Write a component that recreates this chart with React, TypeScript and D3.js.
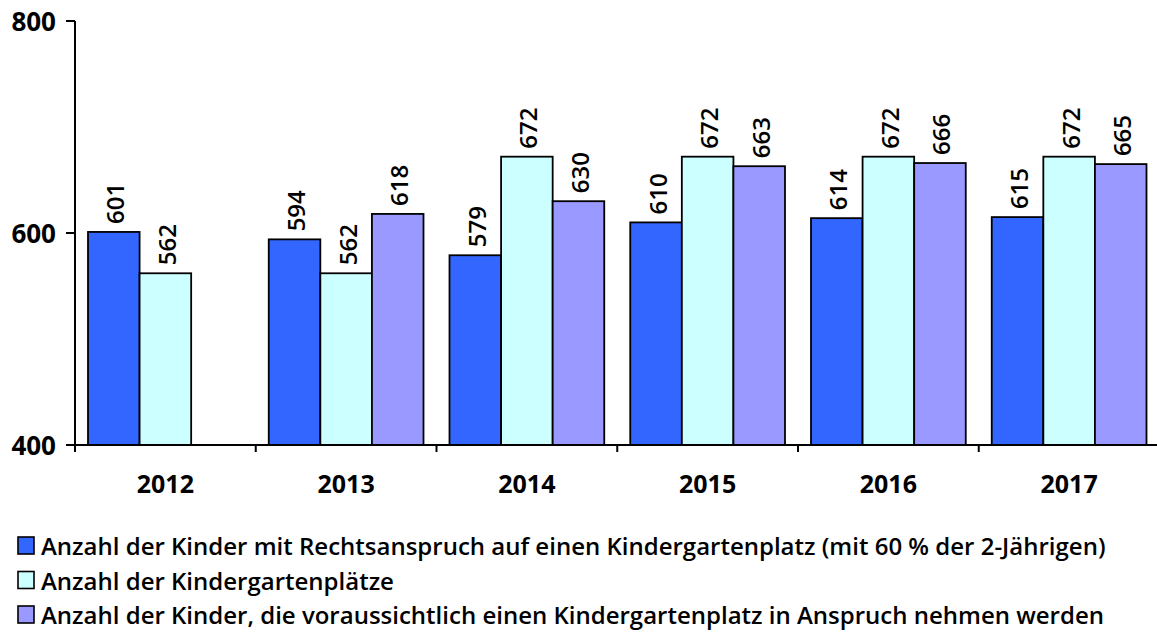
import React from "react";
import * as d3 from "d3";

const years = ["2012", "2013", "2014", "2015", "2016", "2017"];
const rechtsanspruch = [601, 594, 579, 610, 614, 615];
const plaetze = [562, 562, 672, 672, 672, 672];
const inanspruch: (number | null)[] = [null, 618, 630, 663, 666, 665];
const yTicks = [400, 600, 800];
const seriesNames = [
  "Anzahl der Kinder mit Rechtsanspruch auf einen Kindergartenplatz (mit 60 % der 2-Jährigen)",
  "Anzahl der Kindergartenplätze",
  "Anzahl der Kinder, die voraussichtlich einen Kindergartenplatz in Anspruch nehmen werden",
];
const colors = ["#3366FF", "#CCFFFF", "#9999FF"];

const W = 1157;
const H = 639;
const FONT = "'Open Sans', sans-serif";

export default function App() {
  const x0 = 75;
  const step = 180.75;
  const x = d3.scaleBand<string>().domain(years).range([x0, x0 + step * years.length]).paddingInner(0).paddingOuter(0);
  const inner = d3.scaleBand<number>().domain([0, 1, 2]).range([13, step - 13]).padding(0);
  const y = d3.scaleLinear().domain([400, 800]).range([445, 21]);
  const series = [rechtsanspruch, plaetze, inanspruch];

  return (
    <svg width={W} height={H} style={{ position: "absolute", left: 0, top: 0, background: "#fff" }} fontFamily={FONT}>
      {series.map((vals, si) =>
        vals.map((v, i) => {
          if (v == null) return null;
          const bx = (x(years[i]) as number) + (inner(si) as number);
          const bw = inner.bandwidth();
          const by = y(v);
          return (
            <g key={`${si}-${i}`}>
              <rect x={bx} y={by} width={bw} height={y(400) - by} fill={colors[si]} stroke="#000" strokeWidth={1.8} />
              <text
                transform={`translate(${bx + bw / 2 + 1},${by - 8}) rotate(-90)`}
                textAnchor="start"
                dominantBaseline="central"
                fontSize={24}
                fontWeight={600}
                fill="#000"
              >
                {v}
              </text>
            </g>
          );
        })
      )}
      {/* y axis */}
      <line x1={x0} x2={x0} y1={y(800)} y2={y(400) + 7} stroke="#000" strokeWidth={2} />
      {yTicks.map((t) => (
        <g key={t}>
          <line x1={x0 - 9} x2={x0} y1={y(t)} y2={y(t)} stroke="#000" strokeWidth={2} />
          <text x={56} y={y(t)} textAnchor="end" dominantBaseline="central" fontSize={26} fontWeight={700}>
            {t}
          </text>
        </g>
      ))}
      {/* x axis */}
      <line x1={x0} x2={W} y1={y(400)} y2={y(400)} stroke="#000" strokeWidth={2} />
      {years.map((yr, i) => (
        <g key={yr}>
          {i > 0 && <line x1={x(yr)} x2={x(yr)} y1={y(400)} y2={y(400) + 7} stroke="#000" strokeWidth={2} />}
          <text x={(x(yr) as number) + x.bandwidth() / 2} y={493} textAnchor="middle" fontSize={25} fontWeight={700}>
            {yr}
          </text>
        </g>
      ))}
      {/* legend */}
      {seriesNames.map((n, i) => (
        <g key={n} transform={`translate(0,${537 + i * 34.5})`}>
          <rect x={18} y={0} width={16} height={17} fill={colors[i]} stroke="#000" strokeWidth={1.6} />
          <text x={41} y={18} fontSize={24} fontWeight={600}>
            {n}
          </text>
        </g>
      ))}
    </svg>
  );
}
